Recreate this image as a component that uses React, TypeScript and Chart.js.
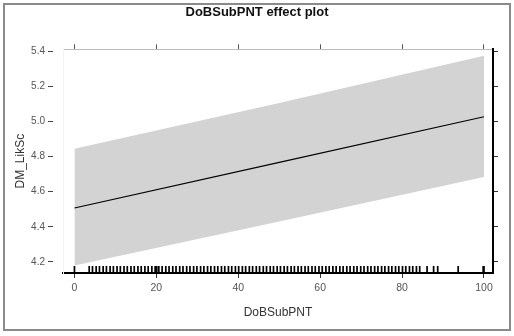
import React, { useEffect, useRef } from "react";
import { Chart, registerables } from "chart.js";

Chart.register(...registerables);

const TITLE = "DoBSubPNT effect plot";
const X_LABEL = "DoBSubPNT";
const Y_LABEL = "DM_LikSc";

const xGrid = [0, 50, 100];
const fitValues = [4.507, 4.767, 5.027];
const upperValues = [4.845, 5.105, 5.374];
const lowerValues = [4.18, 4.43, 4.684];

const xTicks = [0, 20, 40, 60, 80, 100];
const yTicks = [4.2, 4.4, 4.6, 4.8, 5.0, 5.2, 5.4];

const rugValues = [
  0, 3.6, 4.4, 5.3, 6.1, 7.0, 7.8, 8.7, 9.5, 10.4, 11.2, 12.1, 12.9, 13.8, 14.6,
  15.5, 16.3, 17.2, 18.0, 18.9, 19.7, 20.1, 20.6, 21.4, 22.3, 23.1, 24.0, 24.8,
  25.7, 26.5, 27.4, 28.2, 29.1, 29.9, 30.8, 31.6, 32.5, 33.3, 34.2, 35.0, 35.9,
  36.7, 37.6, 38.4, 39.3, 40.1, 41.0, 41.8, 42.7, 43.5, 44.4, 45.2, 46.1, 46.9,
  47.8, 48.6, 49.5, 50.3, 51.2, 52.0, 52.9, 53.7, 54.6, 55.4, 56.3, 57.1, 58.0,
  58.8, 59.7, 60.5, 61.4, 62.2, 63.1, 63.9, 64.8, 65.6, 66.5, 67.3, 68.2, 69.0,
  69.9, 70.7, 71.6, 72.4, 73.3, 74.1, 75.0, 75.8, 76.7, 77.5, 78.4, 79.2, 80.1,
  80.9, 81.8, 82.6, 83.5, 84.3, 86.1, 87.7, 88.7, 93.7, 99.8, 100,
];

const X_MIN = -2.8;
const X_MAX = 102.2;
const Y_MIN = 4.137;
const Y_MAX = 5.411;

const FONT = "'Liberation Sans', Arial, sans-serif";

const rugPlugin = {
  id: "rug",
  afterDatasetsDraw(chart: any) {
    const { ctx, chartArea } = chart;
    const xs = chart.scales.x;
    ctx.save();
    ctx.strokeStyle = "#000";
    ctx.lineWidth = 1.7;
    ctx.beginPath();
    for (const v of rugValues) {
      const px = xs.getPixelForValue(v);
      ctx.moveTo(px, chartArea.bottom);
      ctx.lineTo(px, chartArea.bottom - 7);
    }
    ctx.stroke();
    ctx.restore();
  },
};

export default function App() {
  const ref = useRef<HTMLCanvasElement | null>(null);

  useEffect(() => {
    if (!ref.current) return;
    const toPts = (ys: number[]) => xGrid.map((x, i) => ({ x, y: ys[i] }));
    const chart = new Chart(ref.current, {
      type: "line",
      data: {
        datasets: [
          {
            data: toPts(fitValues),
            borderColor: "#000",
            borderWidth: 1.2,
            pointRadius: 0,
            fill: false,
            xAxisID: "x",
            yAxisID: "y",
          },
          {
            data: toPts(upperValues),
            borderWidth: 0,
            borderColor: "rgba(0,0,0,0)",
            pointRadius: 0,
            fill: false,
            xAxisID: "x",
            yAxisID: "y",
          },
          {
            data: toPts(lowerValues),
            borderWidth: 0,
            borderColor: "rgba(0,0,0,0)",
            backgroundColor: "#d3d3d3",
            pointRadius: 0,
            fill: "-1",
            xAxisID: "x",
            yAxisID: "y",
          },
        ],
      },
      options: {
        animation: false,
        responsive: false,
        devicePixelRatio: 1,
        layout: { padding: 0 },
        plugins: {
          legend: { display: false },
          tooltip: { enabled: false },
          title: {
            display: true,
            text: TITLE,
            color: "#111",
            font: { family: FONT, size: 13, weight: "bold" },
            padding: { top: 5, bottom: 0 },
          },
        },
        scales: {
          x: {
            type: "linear",
            position: "bottom",
            min: X_MIN,
            max: X_MAX,
            afterBuildTicks: (s: any) => {
              s.ticks = xTicks.map((v) => ({ value: v }));
            },
            afterFit: (s: any) => {
              s.height = 63;
            },
            ticks: {
              color: "#555",
              font: { family: FONT, size: 10.5 },
              padding: 4,
              maxRotation: 0,
              callback: (v: any) => String(v),
            },
            grid: {
              drawOnChartArea: false,
              drawTicks: true,
              tickLength: 5,
              tickColor: "#333",
            },
            border: { display: true, color: "#000", width: 2 },
            title: {
              display: true,
              text: X_LABEL,
              color: "#333",
              font: { family: FONT, size: 12 },
              padding: { top: 4, bottom: 16 },
            },
          },
          xTop: {
            type: "linear",
            position: "top",
            min: X_MIN,
            max: X_MAX,
            afterBuildTicks: (s: any) => {
              s.ticks = xTicks.map((v) => ({ value: v }));
            },
            afterFit: (s: any) => {
              s.height = 29.7 - 1;
            },
            ticks: { display: false },
            grid: {
              drawOnChartArea: false,
              drawTicks: true,
              tickLength: 5,
              tickColor: "#555",
            },
            border: { display: true, color: "#bbb", width: 1 },
          },
          y: {
            type: "linear",
            position: "left",
            min: Y_MIN,
            max: Y_MAX,
            afterBuildTicks: (s: any) => {
              s.ticks = yTicks.map((v) => ({ value: v }));
            },
            afterFit: (s: any) => {
              s.width = 63;
            },
            ticks: {
              color: "#555",
              font: { family: FONT, size: 10 },
              padding: 3,
              callback: (v: any) => Number(v).toFixed(1),
            },
            grid: {
              drawOnChartArea: false,
              drawTicks: true,
              tickLength: 15,
              tickColor: "#444",
              tickBorderDash: [5, 10],
            },
            border: { display: true, color: "#f2f2f2", width: 1 },
            title: {
              display: true,
              text: Y_LABEL,
              color: "#333",
              font: { family: FONT, size: 12 },
              padding: { top: 13, bottom: 0 },
            },
          },
          y2: {
            type: "linear",
            position: "right",
            min: Y_MIN,
            max: Y_MAX,
            afterBuildTicks: (s: any) => {
              s.ticks = yTicks.map((v) => ({ value: v }));
            },
            afterFit: (s: any) => {
              s.width = 21;
            },
            ticks: { display: false },
            grid: {
              drawOnChartArea: false,
              drawTicks: true,
              tickLength: 5,
              tickColor: "#333",
            },
            border: { display: true, color: "#000", width: 2 },
          },
        },
      } as any,
      plugins: [rugPlugin],
    });
    return () => chart.destroy();
  }, []);

  return (
    <div style={{ position: "fixed", left: 0, top: 0, width: 514, height: 336, background: "#fff" }}>
      <canvas ref={ref} width={514} height={336} style={{ position: "absolute", left: 0, top: 0 }} />
      <div
        style={{
          position: "absolute",
          left: 3,
          top: 3,
          width: 508,
          height: 328,
          border: "2px solid #8a8a8a",
          boxSizing: "border-box",
          pointerEvents: "none",
        }}
      />
    </div>
  );
}
